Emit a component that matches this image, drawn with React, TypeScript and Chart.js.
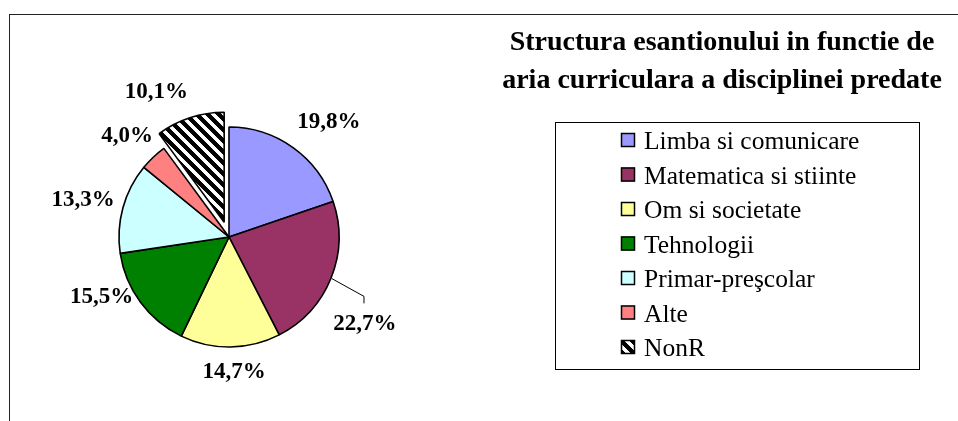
import React, { useEffect, useRef } from 'react';
import { Chart, registerables } from 'chart.js';

Chart.register(...registerables);

// ---- data ----
const categories = [
  'Limba si comunicare',
  'Matematica si stiinte',
  'Om si societate',
  'Tehnologii',
  'Primar-preşcolar',
  'Alte',
  'NonR',
];
const values = [19.8, 22.7, 14.7, 15.5, 13.3, 4.0, 10.1];
const sliceColors = ['#9999FF', '#993366', '#FFFF99', '#008000', '#CCFFFF', '#FF8080'];
const titleLines = ['Structura esantionului in functie de', 'aria curriculara a disciplinei predate'];

// ---- styling config ----
const explodedIndex = 6;
const explodeDistance = 15.5;
const leaderIndex = 1;
const labelNudges: [number, number][] = [
  [7, -4],
  [-12, 36],
  [3, -2],
  [1, -21],
  [8, -1],
  [4, -2],
  [-18, 0],
];
const SERIF = '"Liberation Serif", "Times New Roman", serif';

function makeStripes(): CanvasPattern | string {
  const s = 11;
  const c = document.createElement('canvas');
  c.width = s;
  c.height = s;
  const g = c.getContext('2d');
  if (!g) return '#000';
  const img = g.createImageData(s, s);
  for (let y = 0; y < s; y++) {
    for (let x = 0; x < s; x++) {
      const b = 0.5 + 0.5 * Math.cos((2 * Math.PI * (x - y)) / s);
      let v: number;
      if (b > 0.72) v = 255;
      else if (b < 0.42) v = 0;
      else v = ((b - 0.42) / 0.3) * 255;
      const k = (y * s + x) * 4;
      img.data[k] = v;
      img.data[k + 1] = v;
      img.data[k + 2] = v;
      img.data[k + 3] = 255;
    }
  }
  g.putImageData(img, 0, 0);
  return g.createPattern(c, 'repeat') || '#000';
}

export default function App() {
  const ref = useRef<HTMLCanvasElement | null>(null);

  useEffect(() => {
    const canvas = ref.current;
    if (!canvas) return;
    const stripes = makeStripes();
    const bg: any[] = [...sliceColors, stripes];

    const explodePlugin = {
      id: 'explode',
      afterDatasetUpdate(chart: any) {
        const arc = chart.getDatasetMeta(0).data[explodedIndex];
        if (!arc) return;
        const mid = (arc.startAngle + arc.endAngle) / 2;
        arc.x += Math.cos(mid) * explodeDistance;
        arc.y += Math.sin(mid) * explodeDistance;
      },
    };

    const decorPlugin = {
      id: 'decor',
      beforeDraw(chart: any) {
        const ctx = chart.ctx as CanvasRenderingContext2D;
        ctx.save();
        ctx.fillStyle = '#fff';
        ctx.fillRect(0, 0, chart.width, chart.height);
        ctx.strokeStyle = '#222';
        ctx.lineWidth = 1;
        ctx.strokeRect(9.5, 14.5, 1200, 800);
        ctx.restore();
      },
      afterDraw(chart: any) {
        const ctx = chart.ctx as CanvasRenderingContext2D;
        ctx.save();
        // title
        ctx.fillStyle = '#000';
        ctx.font = `bold 28px ${SERIF}`;
        ctx.textAlign = 'center';
        ctx.textBaseline = 'alphabetic';
        titleLines.forEach((t, i) => ctx.fillText(t, 722, 50 + i * 38));

        // legend box
        ctx.strokeStyle = '#000';
        ctx.lineWidth = 1;
        ctx.strokeRect(555.5, 122.5, 364, 247);
        ctx.font = `25.5px ${SERIF}`;
        ctx.textAlign = 'left';
        categories.forEach((c, i) => {
          const cy = 140 + i * 34.5;
          ctx.fillStyle = bg[i];
          ctx.fillRect(621, cy - 7, 14, 14);
          ctx.strokeStyle = '#000';
          ctx.lineWidth = 1.5;
          ctx.strokeRect(621.5, cy - 6.5, 13, 13);
          ctx.fillStyle = '#000';
          ctx.fillText(c, 644, cy + 9);
        });

        // data labels
        const meta = chart.getDatasetMeta(0);
        ctx.font = `bold 23px ${SERIF}`;
        ctx.textAlign = 'center';
        ctx.textBaseline = 'middle';
        meta.data.forEach((arc: any, i: number) => {
          const mid = (arc.startAngle + arc.endAngle) / 2;
          const dx = Math.cos(mid);
          const dy = Math.sin(mid);
          const R = arc.outerRadius + 18;
          const ax = arc.x + dx * R;
          const ay = arc.y + dy * R;
          const txt = values[i].toFixed(1).replace('.', ',') + '%';
          const w = ctx.measureText(txt).width;
          const [nx, ny] = labelNudges[i] || [0, 0];
          const lx = ax + (dx * w) / 2 + nx;
          const ly = ay + dy * 9 + ny;
          ctx.fillStyle = '#000';
          ctx.fillText(txt, lx, ly);
          if (i === leaderIndex) {
            const sx = arc.x + dx * (arc.outerRadius + 1);
            const sy = arc.y + dy * (arc.outerRadius + 1);
            ctx.beginPath();
            ctx.strokeStyle = '#000';
            ctx.lineWidth = 1;
            ctx.moveTo(sx, sy);
            ctx.lineTo(lx - 1, ly - 28);
            ctx.lineTo(lx - 1, ly - 21);
            ctx.stroke();
          }
        });
        ctx.restore();
      },
    };

    const chart = new Chart(canvas, {
      type: 'pie',
      data: {
        labels: categories,
        datasets: [
          {
            data: values,
            backgroundColor: bg,
            borderColor: '#000',
            borderWidth: 1.6,
            radius: 110,
          } as any,
        ],
      },
      options: {
        responsive: false,
        animation: false,
        layout: { padding: { left: 100, right: 600, top: 108, bottom: 55 } },
        plugins: {
          legend: { display: false },
          title: { display: false },
          tooltip: { enabled: false },
        },
      },
      plugins: [explodePlugin, decorPlugin],
    });
    return () => chart.destroy();
  }, []);

  return (
    <div style={{ position: 'absolute', left: 0, top: 0, width: 958, height: 421 }}>
      <canvas ref={ref} width={958} height={421} style={{ display: 'block' }} />
    </div>
  );
}
